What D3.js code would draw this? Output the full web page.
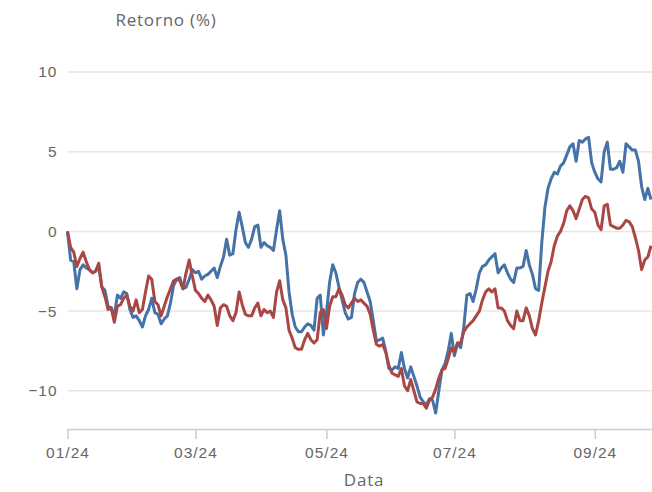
<!DOCTYPE html>
<html>
<head>
<meta charset="utf-8">
<script src="https://cdn.jsdelivr.net/npm/d3@7.9.0/dist/d3.min.js"></script>
<style>
  body { margin: 0; background: #fff; }
  svg { display: block; font-family: "Open Sans", "DejaVu Sans", sans-serif; }
  .grid line { stroke: #e6e6e6; stroke-width: 1.5; }
  .tick text { fill: #666; font-size: 15.5px; letter-spacing: 1px; }
</style>
</head>
<body>
<svg id="chart" width="652" height="492"></svg>
<script>
// daily returns (%) per trading day
const blueSeries = [
  0, -1.8, -1.9, -3.6, -2.4, -2.1, -2.3, -2.4, -2.6, -2.5,
  -2.2, -3.5, -3.7, -4.7, -4.8, -5.3, -4.0, -4.2, -3.8, -3.9,
  -4.9, -5.4, -5.3, -5.6, -6.0, -5.3, -4.9, -4.2, -5.1, -5.2,
  -5.8, -5.5, -5.3, -4.5, -3.4, -3.0, -2.9, -3.6, -3.5, -3.0,
  -2.4, -2.6, -2.5, -3.0, -2.8, -2.7, -2.5, -2.3, -2.9, -2.2,
  -1.6, -0.5, -1.5, -1.4, 0.1, 1.2, 0.3, -0.7, -1.0, -0.5,
  0.3, 0.4, -1.0, -0.7, -0.9, -1.0, -1.2, 0.1, 1.3, -0.5,
  -1.5, -3.8, -5.2, -6.0, -6.3, -6.3, -6.0, -5.8, -5.9, -6.2,
  -4.2, -4.0, -6.5, -5.1, -3.2, -2.1, -2.6, -3.5, -4.3, -5.1,
  -5.5, -5.4, -3.9, -3.2, -3.0, -3.2, -3.8, -4.4, -5.6, -6.9,
  -6.8, -6.7, -7.5, -8.6, -8.7, -8.5, -8.6, -7.6, -8.6, -9.2,
  -8.5, -9.1, -9.7, -10.4, -10.7, -10.9, -10.5, -10.6, -11.4, -10.0,
  -8.7, -8.3, -7.5, -6.4, -7.8, -7.0, -7.3, -6.0, -4.0, -3.9,
  -4.4, -3.6, -2.6, -2.2, -2.1, -1.8, -1.6, -1.4, -2.6, -2.3,
  -2.1, -2.6, -3.0, -3.2, -2.3, -2.3, -2.2, -1.2, -2.1, -2.7,
  -3.6, -3.7, -0.7, 1.5, 2.7, 3.3, 3.7, 3.6, 4.1, 4.3,
  4.8, 5.3, 5.5, 4.4, 5.7, 5.6, 5.8, 5.9, 4.3, 3.7,
  3.3, 3.1, 5.0, 5.6, 3.9, 3.9, 4.0, 4.4, 3.7, 5.5,
  5.3, 5.1, 5.1, 4.4, 2.8, 2.0, 2.7, 2.0
];
const redSeries = [
  0, -1.0, -1.3, -2.2, -1.7, -1.3, -1.9, -2.4, -2.6, -2.5,
  -2.0, -3.5, -4.1, -4.9, -4.8, -5.7, -4.7, -4.6, -4.2, -4.0,
  -4.7, -5.0, -4.3, -5.1, -4.9, -3.8, -2.8, -3.0, -4.4, -4.6,
  -5.3, -4.7, -4.1, -3.6, -3.1, -3.0, -3.1, -3.6, -2.6, -1.8,
  -2.8, -3.7, -3.9, -4.2, -4.4, -4.0, -4.3, -4.7, -5.9, -4.8,
  -4.6, -4.7, -5.3, -5.6, -5.1, -3.8, -4.6, -5.2, -5.3, -5.3,
  -4.8, -4.5, -5.3, -4.9, -5.1, -5.0, -5.4, -3.8, -3.1, -4.3,
  -4.8, -6.2, -6.7, -7.3, -7.4, -7.4, -6.8, -6.4, -6.8, -7.0,
  -6.8, -5.1, -4.9, -6.1, -4.7, -4.1, -4.1, -3.6, -4.0, -4.6,
  -4.8, -4.5, -4.2, -4.4, -4.3, -4.5, -4.7, -5.2, -6.2, -7.1,
  -7.2, -7.1, -7.6, -8.4, -8.9, -9.0, -9.1, -8.6, -9.7, -10.0,
  -9.3, -10.0, -10.7, -10.8, -10.8, -11.1, -10.6, -10.4, -9.9, -9.2,
  -8.7, -8.6, -8.0, -7.3, -7.6, -7.0, -7.0, -6.3, -6.0, -5.8,
  -5.6, -5.3, -5.0, -4.3, -3.8, -3.6, -3.8, -3.6, -4.8, -4.8,
  -5.0, -5.6, -5.9, -6.1, -5.0, -5.6, -5.6, -4.8, -5.3, -6.1,
  -6.5, -5.6, -4.5, -3.5, -2.5, -1.9, -0.9, -0.3, 0.0, 0.5,
  1.3, 1.6, 1.3, 0.8, 1.4, 2.0, 2.2, 2.1, 1.4, 1.2,
  0.4, 0.1, 1.6, 1.7, 0.4, 0.3, 0.2, 0.2, 0.4, 0.7,
  0.6, 0.3, -0.4, -1.2, -2.4, -1.8, -1.6, -0.9
];
// first trading day of each labelled month
const tickIndex = [0, 41, 83, 124, 169];
const tickLabels = ["01/24", "03/24", "05/24", "07/24", "09/24"];
const yTicks = [-10, -5, 0, 5, 10];

const svg = d3.select("#chart");
const margin = { left: 67.5, right: 1, top: 72, bottom: 63 };
const width = 652, height = 492;

const x = d3.scaleLinear()
  .domain([0, blueSeries.length - 1])
  .range([margin.left, width - margin.right]);

const y = d3.scaleLinear()
  .domain([-12.4, 10])
  .range([height - margin.bottom, margin.top]);

// horizontal grid
const grid = svg.append("g").attr("class", "grid");
grid.selectAll("line")
  .data(yTicks)
  .enter()
  .append("line")
  .attr("x1", margin.left)
  .attr("x2", width)
  .attr("y1", d => y(d))
  .attr("y2", d => y(d));

// y axis labels (no line)
const yAxis = svg.append("g")
  .attr("transform", `translate(${margin.left},0)`)
  .call(d3.axisLeft(y).tickValues(yTicks).tickSize(0).tickPadding(10)
    .tickFormat(d => d < 0 ? "\u2212" + Math.abs(d) : d));
yAxis.select(".domain").remove();

// x axis
const xAxis = svg.append("g")
  .attr("transform", `translate(0,${height - margin.bottom})`)
  .call(d3.axisBottom(x).tickValues(tickIndex).tickSize(10).tickPadding(8)
    .tickFormat((d, i) => tickLabels[i]));
xAxis.select(".domain").attr("stroke", "#c0d0e0").attr("stroke-width", 1.5)
  .attr("d", `M${margin.left},0.5H${width}`);
xAxis.selectAll(".tick line").attr("stroke", "#c0d0e0").attr("stroke-width", 1.5);

// lines
const line = d3.line()
  .x((d, i) => x(i))
  .y(d => y(d));

svg.append("path")
  .datum(blueSeries)
  .attr("fill", "none")
  .attr("stroke", "#4572a7")
  .attr("stroke-width", 3)
  .attr("stroke-linejoin", "round")
  .attr("d", line);

svg.append("path")
  .datum(redSeries)
  .attr("fill", "none")
  .attr("stroke", "#aa4643")
  .attr("stroke-width", 3)
  .attr("stroke-linejoin", "round")
  .attr("d", line);

// titles
svg.append("text")
  .attr("x", 166)
  .attr("y", 26)
  .attr("text-anchor", "middle")
  .attr("fill", "#666")
  .attr("font-size", 17)
  .attr("letter-spacing", 0.8)
  .text("Retorno (%)");

svg.append("text")
  .attr("x", 364)
  .attr("y", 486)
  .attr("text-anchor", "middle")
  .attr("fill", "#666")
  .attr("font-size", 17)
  .attr("letter-spacing", 0.8)
  .text("Data");
</script>
</body>
</html>
